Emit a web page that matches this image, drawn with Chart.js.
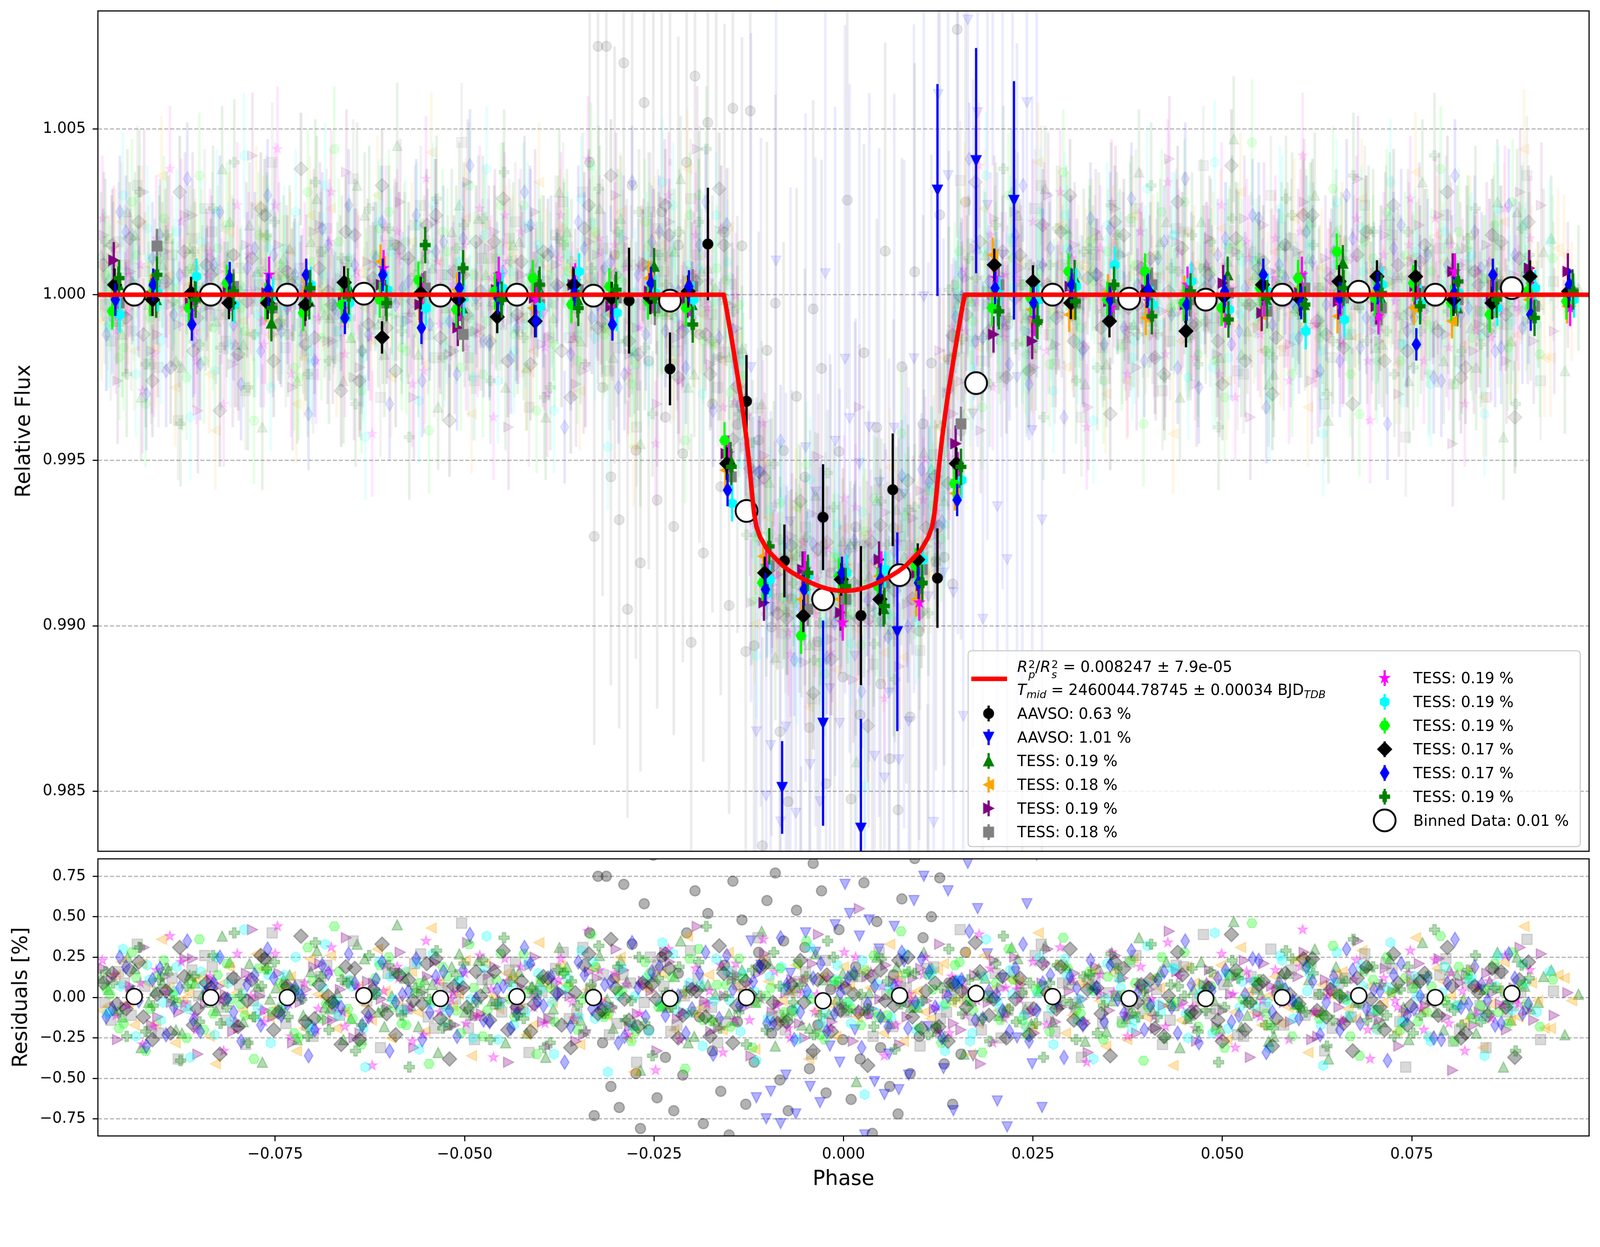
<!DOCTYPE html>
<html>
<head>
<meta charset="utf-8">
<script src="https://cdn.jsdelivr.net/npm/chart.js@4.4.1/dist/chart.umd.min.js"></script>
<style>
  html, body { margin: 0; padding: 0; background: #fff; overflow: hidden; }
  #page { position: relative; width: 4250px; height: 3192px; font-family: 'DejaVu Sans', sans-serif; transform-origin: 0 0; }
  #page canvas.chart { position: absolute; left: 0; }
  #legend { position: absolute; left: 2570px; top: 1727px; width: 1629px; height: 523px; box-sizing: border-box;
            border: 3px solid #cccccc; border-radius: 10px; background: rgba(255, 255, 255, 0.8); }
  .lt { position: absolute; font-size: 40px; line-height: 46px; height: 46px; white-space: nowrap; color: #000; }
  .ss { display: inline-flex; flex-direction: column; font-size: 0.7em; line-height: 0.95; vertical-align: 0.38em; margin-left: 2px; }
  .lt sub { font-size: 0.7em; vertical-align: -0.3em; line-height: 0; }
</style>
</head>
<body>
<div id="page">
  <canvas id="main" class="chart" width="4250" height="2272" style="top:0"></canvas>
  <canvas id="res" class="chart" width="4250" height="922" style="top:2270px"></canvas>
  <div id="legend"></div>
</div>
<script>
// fit the 4250x3192 layout into whatever viewport we get
const page = document.getElementById('page');
const fit = Math.min(window.innerWidth / 4250, window.innerHeight / 3192);
page.style.transform = `scale(${fit})`;

// ---------------- data ----------------
const seriesLabels = ['AAVSO: 0.63 %', 'AAVSO: 1.01 %', 'TESS: 0.19 %', 'TESS: 0.18 %', 'TESS: 0.19 %', 'TESS: 0.18 %',
                      'TESS: 0.19 %', 'TESS: 0.19 %', 'TESS: 0.19 %', 'TESS: 0.17 %', 'TESS: 0.17 %', 'TESS: 0.19 %'];
const modelLabel1 = '<i>R</i><span class="ss"><span>2</span><span><i>p</i></span></span>/<i>R</i><span class="ss"><span>2</span><span><i>s</i></span></span> = 0.008247 ± 7.9e-05';
const modelLabel2 = '<i>T</i><sub><i>mid</i></sub> = 2460044.78745 ± 0.00034 BJD<sub><i>TDB</i></sub>';
const binnedLabel = 'Binned Data: 0.01 %';

// transit model
const modelPhase = [-0.0984, -0.0158, -0.0155, -0.0152, -0.0148, -0.0144, -0.0140, -0.0136, -0.0132, -0.0128, -0.0124, -0.0121,
  -0.0118, -0.0115, -0.0110, -0.0100, -0.0089, -0.0080, -0.0070, -0.0060, -0.0050, -0.0040, -0.0030, -0.0020, -0.0010, 0.0001,
  0.0012, 0.0022, 0.0032, 0.0042, 0.0052, 0.0062, 0.0072, 0.0082, 0.0091, 0.0102, 0.0112, 0.0117, 0.0120, 0.0123, 0.0126,
  0.0130, 0.0134, 0.0138, 0.0142, 0.0146, 0.0150, 0.0154, 0.0157, 0.0160, 0.0984];
const modelFlux = [1.0, 1.0, 0.99965, 0.99925, 0.99871, 0.99815, 0.99758, 0.99700, 0.99635, 0.99565, 0.99480, 0.99405,
  0.99340, 0.99300, 0.99268, 0.99228, 0.99202, 0.99181, 0.99164, 0.99150, 0.99138, 0.99127, 0.99118, 0.99111, 0.99107, 0.99105,
  0.99107, 0.99111, 0.99118, 0.99127, 0.99138, 0.99150, 0.99164, 0.99181, 0.99202, 0.99228, 0.99268, 0.99300, 0.99340, 0.99405, 0.99480,
  0.99565, 0.99635, 0.99700, 0.99758, 0.99815, 0.99871, 0.99925, 0.99965, 1.0, 1.0];

// AAVSO binned points
const aavso1Phase = [-0.0283, -0.0229, -0.0179, -0.0128, -0.0078, -0.0027, 0.0023, 0.0065, 0.0124];
const aavso1Flux = [0.99982, 0.99776, 1.00153, 0.99678, 0.99196, 0.99328, 0.99031, 0.99411, 0.99144];
const aavso1Err = [0.0016, 0.0011, 0.0017, 0.0014, 0.0011, 0.0016, 0.0021, 0.0017, 0.0015];
const aavso2Phase = [-0.0081, -0.0027, 0.0023, 0.0071, 0.0124, 0.0175, 0.0225];
const aavso2Flux = [0.98512, 0.98706, 0.98389, 0.98982, 1.00316, 1.00405, 1.00285];
const aavso2Err = [0.0014, 0.0031, 0.0033, 0.0030, 0.0032, 0.0034, 0.0036];

// TESS binned points (one bin grid, small per-sector offset)
const binPhase = [-0.0961, -0.0911, -0.0860, -0.0810, -0.0759, -0.0709, -0.0658, -0.0608, -0.0557, -0.0507, -0.0456, -0.0406,
  -0.0355, -0.0305, -0.0254, -0.0204, -0.0153, -0.0103, -0.0052, -0.0002, 0.0049, 0.0099, 0.0150, 0.0200, 0.0251, 0.0301,
  0.0352, 0.0402, 0.0453, 0.0503, 0.0554, 0.0604, 0.0655, 0.0705, 0.0756, 0.0806, 0.0857, 0.0907, 0.0958];
const tessShift = [0.0004, -0.0003, -0.0002, 0.0005, 0.0001, 0.0006, -0.0004, -0.0001, 0.0000, 0.0005];
const tessBinErr = [0.00055, 0.00052, 0.00055, 0.00052, 0.00055, 0.00055, 0.00055, 0.00049, 0.00049, 0.00055];
const tess1Bin = [1.00030, 0.99985, 1.00010, 0.99975, 0.99914, 0.99980, 1.00025, 0.99990, 1.00015, 0.99960, 0.99995, 1.00018, 0.99985,
  1.00005, 1.00086, 0.99970, 0.99500, 0.99150, 0.99140, 0.99120, 0.99052, 0.99138, 0.99448, 0.99960, 0.99925, 1.00050, 0.99975,
  1.00020, 0.99990, 1.00060, 0.99985, 0.99970, 1.00095, 0.99990, 1.00015, 0.99960, 1.00008, 0.99985, 1.00022];
const tess2Bin = [0.99995, 1.00010, 0.99985, 1.00020, 0.99970, 1.00005, 0.99990, 1.00100, 0.99975, 1.00015, 0.99990, 0.99960, 1.00025,
  0.99985, 1.00050, 1.00000, 0.99470, 0.99210, 0.99080, 0.99080, 0.99150, 0.99080, 0.99400, 1.00120, 0.99955, 0.99940, 1.00010,
  0.99930, 1.00005, 0.99965, 0.99940, 1.00020, 0.99935, 1.00010, 0.99960, 0.99920, 1.00000, 0.99985, 0.99965];
const tess3Bin = [1.00104, 0.99995, 0.99975, 1.00020, 1.00005, 0.99960, 0.99985, 1.00030, 0.99970, 0.99900, 1.00015, 0.99990, 1.00030,
  0.99965, 1.00010, 0.99985, 0.99520, 0.99070, 0.99170, 0.99040, 0.99200, 0.99160, 0.99550, 0.99880, 0.99860, 1.00025, 0.99980,
  1.00015, 0.99970, 1.00035, 0.99945, 1.00005, 0.99980, 0.99965, 1.00025, 1.00070, 0.99990, 1.00080, 1.00070];
const tess4Bin = [0.99975, 1.00147, 0.99990, 1.00025, 0.99960, 1.00010, 0.99985, 0.99975, 1.00020, 0.99880, 1.00005, 0.99970, 1.00015,
  0.99990, 0.99960, 1.00025, 0.99450, 0.99180, 0.99050, 0.99080, 0.99130, 0.99170, 0.99610, 1.00030, 0.99990, 0.99975, 0.99970,
  1.00030, 0.99985, 1.00005, 0.99950, 1.00020, 0.99990, 0.99960, 1.00010, 0.99985, 1.00030, 0.99965, 1.00005];
const tess5Bin = [0.99985, 1.00020, 0.99960, 1.00005, 1.00060, 0.99990, 0.99970, 1.00080, 1.00010, 0.99975, 1.00060, 0.99985, 1.00040,
  0.99965, 1.00005, 0.99990, 0.99520, 0.99180, 0.99170, 0.99010, 0.99170, 0.99070, 0.99470, 1.00050, 0.99930, 1.00010, 0.99960,
  0.99980, 1.00030, 0.99955, 0.99990, 1.00060, 0.99970, 0.99935, 1.00015, 1.00070, 0.99985, 1.00030, 0.99960];
const tess6Bin = [0.99940, 1.00005, 1.00055, 0.99970, 0.99995, 1.00030, 0.99975, 1.00015, 0.99960, 0.99990, 1.00020, 0.99965, 1.00070,
  0.99945, 1.00005, 0.99985, 0.99370, 0.99140, 0.99150, 0.99160, 0.99170, 0.99200, 0.99440, 1.00000, 0.99985, 1.00025, 1.00090,
  0.99970, 1.00040, 0.99955, 1.00010, 0.99890, 0.99925, 1.00030, 0.99975, 1.00005, 0.99960, 1.00020, 0.99985];
const tess7Bin = [0.99950, 0.99990, 0.99960, 1.00035, 0.99980, 0.99945, 0.99970, 0.99985, 1.00045, 0.99955, 1.00010, 1.00050, 0.99970,
  1.00025, 0.99980, 0.99960, 0.99560, 0.99130, 0.98970, 0.99150, 0.99120, 0.99180, 0.99430, 0.99960, 0.99990, 1.00070, 0.99985,
  1.00070, 0.99975, 0.99960, 1.00020, 1.00050, 1.00130, 0.99990, 1.00035, 0.99975, 0.99940, 1.00010, 0.99980];
const tess8Bin = [1.00030, 0.99985, 1.00005, 0.99975, 0.99975, 0.99970, 1.00037, 0.99871, 1.00005, 0.99985, 0.99933, 0.99920, 1.00030,
  0.99990, 0.99990, 1.00010, 0.99490, 0.99160, 0.99030, 0.99140, 0.99080, 0.99200, 0.99490, 1.00090, 1.00040, 0.99975, 0.99920,
  1.00010, 0.99890, 0.99995, 1.00030, 0.99985, 1.00040, 1.00055, 1.00055, 0.99985, 0.99975, 1.00055, 1.00010];
const tess9Bin = [0.99985, 1.00030, 0.99910, 1.00050, 1.00015, 1.00060, 0.99930, 1.00060, 0.99900, 1.00020, 0.99990, 0.99920, 1.00005,
  0.99910, 1.00035, 1.00025, 0.99410, 0.99110, 0.99110, 0.99160, 0.99140, 0.99130, 0.99380, 1.00020, 0.99975, 1.00030, 0.99985,
  1.00015, 0.99970, 1.00010, 1.00060, 0.99975, 0.99990, 1.00020, 0.99850, 1.00005, 1.00060, 0.99940, 1.00030];
const tess10Bin = [1.00050, 1.00060, 0.99985, 1.00010, 0.99960, 1.00020, 0.99995, 0.99975, 1.00150, 1.00080, 0.99985, 1.00030, 0.99960,
  1.00015, 0.99990, 0.99910, 0.99480, 0.99240, 0.99160, 0.99120, 0.99060, 0.99130, 0.99480, 0.99950, 0.99920, 0.99980, 1.00030,
  0.99935, 1.00010, 0.99925, 0.99990, 0.99970, 1.00020, 1.00005, 0.99965, 1.00040, 0.99985, 0.99930, 1.00010];

// unbinned points: phase in units of 1e-4, residual in units of 0.01 %
const aavso1FaintPh = [-335, -329, -324, -318, -313, -307, -302, -296, -290, -285, -279, -274, -268, -263, -257, -251, -246, -240,
  -235, -229, -224, -218, -212, -207, -201, -196, -190, -185, -179, -173, -168, -162, -157, -151, -146, -140, -134, -129, -123, -118,
  -112, -107, -101, -95, -90, -84, -79, -73, -68, -62, -56, -51, -45, -40, -34, -29, -23, -17, -12, -6, -1, 5, 10, 16, 22, 27, 33,
  38, 44, 49, 55, 61, 66, 72, 77, 83, 88, 94, 100, 105, 111, 116, 122, 127, 133, 139, 144, 150, 155, 161];
const aavso1FaintRes = [40, -73, 75, -28, 75, -55, 12, -68, 70, -95, 33, -47, -81, 58, -20, 88, -62, 25, -37, 102, -70, 15, -48, 40,
  -105, 66, -12, -78, 52, -33, 95, -58, 20, -85, 72, -15, 48, -66, 110, -40, 28, -92, 60, -22, 77, -51, 35, -70, -8, 54, -120, 31,
  -44, 83, -17, 66, -59, 5, -90, 42, -26, 118, -63, 19, -38, 71, -10, -84, 47, -31, 99, -55, 14, -72, 61, -3, -47, 86, -24, 37,
  -113, 50, -19, 74, -41, 9, -66, 93, -35, 28];
const aavso2FaintPh = [-122, -115, -109, -102, -96, -89, -83, -76, -70, -63, -57, -50, -44, -37, -31, -24, -18, -11, -5, 2, 8, 15,
  21, 28, 34, 41, 47, 54, 60, 67, 73, 80, 86, 93, 99, 106, 112, 119, 125, 132, 138, 145, 151, 158, 164, 171, 177, 184, 190, 197,
  203, 210, 216, 223, 229, 236, 242, 249, 255, 262];
const aavso2FaintRes = [35, -62, 20, -75, -58, 90, -78, -48, 15, -72, -110, 40, -55, 28, -65, 95, -30, 45, -40, 70, 52, -20, 38,
  -85, 48, -52, 30, -60, -35, 44, -57, 22, -48, 60, -130, 75, -18, -92, 115, -44, 66, -70, 10, -125, 83, -36, 55, -98, 27, 140,
  -64, 12, -80, 105, -25, -115, 58, -41, 88, -68];
// TESS 2-min cadence folds onto a common phase grid; each transit sits at its own offset
const tessFaintGrid = [-980, -962, -945, -927, -909, -891, -873, -856, -838, -820, -802, -784, -767, -749, -731, -713, -695, -678,
  -660, -642, -624, -606, -589, -571, -553, -535, -517, -500, -482, -464, -446, -428, -411, -393, -375, -357, -339, -322, -304, -286,
  -268, -250, -233, -215, -197, -179, -161, -144, -126, -108, -90, -72, -55, -37, -19, -1, 17, 34, 52, 70, 88, 106, 123, 141, 159,
  177, 195, 212, 230, 248, 266, 284, 301, 319, 337, 355, 373, 390, 408, 426, 444, 462, 479, 497, 515, 533, 551, 568, 586, 604, 622,
  640, 657, 675, 693, 711, 729, 746, 764, 782, 800, 818, 835, 853, 871, 889, 907, 924, 942, 960];
const tessFaintShiftA = [0, 9, 4, 13, 2, 11, 6, 15, 7, 16];
const tessFaintShiftB = [10, 1, 14, 5, 17, 8, 12, 3, 15, 6];
const tess1ResA = [12, -8, 25, -31, 4, 17, -22, 9, -3, 38, -15, 21, -40, 6, 14, -11, 29, -7, -26, 33, 2, -18, 45, -5, 11, -34, 19, -9,
  23, -2, -28, 16, 7, -37, 31, -13, 3, 26, -19, 10, -45, 13, -6, 35, -24, 8, 20, -14, -1, 41, -30, 5, -17, 27, -10, 15, -52, 3, -12,
  19, -6, 28, -21, 7, -35, 14, 0, -9, 24, -16, 32, -4, 11, -27, 18, -2, -13, 37, -8, 22, -31, 5, 9, -19, 47, -11, 2, -24, 15, -6, 30,
  -38, 12, -3, 20, -15, 6, -26, 34, -9, 17, -1, -22, 10, -43, 25, -7, 13];
const tess2ResA = [-5, 22, -17, 9, 36, -28, 3, 14, -41, 19, -8, 27, -12, 6, -33, 24, 1, -19, 11, -4, 30, -25, 16, -9, 43, -14, 2, -36,
  21, -7, 12, -23, 34, -3, 8, -29, 18, -11, 25, -46, 5, 15, -20, 38, -6, -15, 28, 4, -32, 10, -2, 20, -38, 13, -24, 7, 16, -10, 33,
  -27, 4, -13, 21, -1, -35, 26, -8, 11, -18, 40, -5, -22, 9, 17, -30, 2, 24, -12, 6, -42, 19, -3, 13, -26, 31, -9, 1, -16, 23, -34,
  8, 14, -7, 29, -20, 3, -11, 37, -24, 10, -4, 18, -31, 6, -14, 44, -2, -19, 12];
const tess3ResA = [18, -26, 7, 31, -12, -3, 24, -35, 11, 2, -19, 42, -8, 15, -28, 5, 21, -14, 37, -22, 9, -6, 28, -31, 13, -1, -17, 34,
  -10, 19, -40, 6, 25, -13, 3, -27, 16, -5, 30, -18, 10, -33, 22, -9, 44, -21, 1, 14, -36, 27, -4, 11, -25, 39, -15, 8, 55, -7, 20,
  -29, 12, -2, 33, -16, 5, -41, 23, -10, 8, -22, 30, -6, 15, -34, 2, 26, -12, 9, -19, 41, -3, -27, 17, -8, 13, -37, 21, 4, -15, 28,
  -24, 7, -1, 35, -11, 18, -30, 10, -5, 24, -45, 14, -9, 3, -20, 31, -14];
const tess4ResA = [-14, 9, 33, -21, 5, -38, 17, 26, -6, 12, -29, 3, 40, -16, 8, -24, 20, -11, 35, -2, -31, 15, -7, 27, -19, 6, 46, -26,
  11, -9, 22, -34, 4, 18, -13, 31, -1, -23, 14, -40, 25, 7, -17, 29, -5, -28, 16, 2, 37, -12, -20, 10, -35, 23, -8, 13, -3, 28, -18,
  6, -30, 19, -9, 42, -14, 1, -25, 16, -6, 33, -21, 8, -37, 12, 3, -15, 26, -4, -29, 20, -11, 39, -7, 14, -24, 5, 30, -17, -2, 22,
  -33, 9, -12, 27, -8, 18, -43, 11, -1, 24, -20, 7, -31, 15, -5, 36, -26, 4];
const tess5ResA = [23, -11, 6, -29, 17, 38, -4, -20, 13, -33, 27, 1, -15, 44, -24, 9, -7, 31, -18, 5, -42, 20, 12, -27, 35, -9, 3, -16,
  26, -37, 10, 19, -6, -30, 24, -13, 41, -2, 15, -23, 8, -45, 30, -10, 18, 4, -34, 21, -14, 36, -5, -25, 11, 2, -19, 28, -8, 16, -36,
  9, -3, 25, -21, 13, -11, 39, -28, 6, -1, 22, -17, 31, -7, -40, 14, 3, -24, 19, -12, 34, -5, -19, 8, 27, -31, 11, -2, 17, -26, 42,
  -9, 4, -15, 23, -38, 12, -6, 29, -20, 1, 15, -33, 7, -13, 26, -4];
const tess6ResA = [-9, 30, -24, 11, -3, 19, -37, 8, 25, -15, 42, -6, -28, 14, 3, -20, 33, -11, 7, -43, 22, -1, 16, -32, 27, -8, 10, -25,
  38, -4, -17, 21, 5, -35, 12, 29, -13, -46, 18, 1, -21, 34, -7, 9, -30, 24, -2, 15, -39, 13, 6, -26, 31, -10, 20, -16, -60, 8, -12,
  27, -4, 17, -33, 11, -22, 36, -7, 2, -18, 25, -29, 14, -1, -38, 21, 6, -14, 32, -9, 18, -25, 4, 40, -19, 10, -6, -31, 23, -3, 15,
  -42, 28, -11, 7, -20, 34, -15, 1, -27, 19, -5, 12, -36, 26, -8, 9];
const tess7ResA = [6, -19, 28, -33, 14, 2, -25, 36, -10, 21, -4, -38, 17, 9, -22, 31, -13, 44, -7, -29, 12, 25, -16, 3, -41, 19, -8, 33,
  -24, 11, -1, 27, -35, 6, 16, -20, 39, -12, 4, -27, 22, -6, 13, -44, 30, -15, 8, 24, -31, 1, 18, -9, 35, -23, 10, -3, -17, 26, -11,
  41, -6, 14, -28, 20, -2, -34, 9, 30, -14, 5, -21, 37, -8, 16, -26, 1, 23, -39, 12, -4, 28, -18, 7, -31, 15, 46, -10, 3, -24, 19,
  -13, 32, -1, -36, 11, 25, -20, 6, -9, 38, -27, 14, -5, 21, -16, 8];
const tess8ResA = [15, -7, 22, -26, 4, 31, -17, 9, -35, 12, -2, 26, -20, 7, 38, -13, 1, -29, 18, -9, 33, -23, 11, -4, 24, -38, 6, 16,
  -14, 29, -6, -21, 13, 3, -31, 20, -10, 36, -1, -18, 8, 27, -25, 5, -12, 32, -28, 10, 19, -3, -15, 23, -33, 14, -8, 2, -42, 17, -5,
  25, -19, 9, -27, 4, 34, -11, 13, -1, -23, 21, -7, 30, -16, 6, -36, 18, -3, 11, -24, 28, -9, 2, -14, 39, -20, 8, -30, 15, -4, 24,
  -12, 1, -33, 19, -6, 27, -17, 10, -2, 31, -25, 7, -11, 16, -37, 22];
const tess9ResA = [-12, 25, 3, -30, 18, -6, 35, -21, 9, -1, -27, 14, 30, -11, 6, -36, 20, -4, 27, -17, 11, -33, 2, 24, -9, 16, -24, 39,
  -14, 5, -19, 31, -2, 13, -40, 22, -7, 8, -28, 34, -12, 19, 1, -22, 15, -35, 26, -5, 10, -16, 37, -26, 4, 21, -10, 12, -31, 7, -18,
  28, -3, 16, -25, 9, 41, -13, 2, -21, 33, -8, 14, -37, 6, 23, -15, -1, 29, -20, 11, -6, 35, -28, 4, 17, -11, 24, -34, 9, -2, 19,
  -23, 13, 30, -16, 5, -39, 21, -7, 12, -26, 36, -4, 8, -17, 27, -10];
const tess10ResA = [9, -24, 31, -5, 18, -39, 13, 2, -16, 40, -28, 7, 22, -12, -1, 34, -20, 11, -33, 26, -8, 15, -43, 4, 29, -17, 21, -3,
  -26, 37, -11, 6, -31, 17, 10, -21, 32, -6, -14, 25, -36, 3, 19, -9, 44, -19, 12, -29, 1, 28, -13, 8, -23, 35, -4, 14, -7, 24, -32,
  16, -2, -18, 30, -10, 5, -27, 38, -15, 9, -37, 20, -4, 13, -22, 27, -1, -12, 33, -25, 7, 18, -8, -40, 23, -3, 11, -19, 29, -6, 15,
  -30, 2, 36, -14, 8, -24, 19, -11, 42, -5, -17, 26, -9, 4, -33, 12];
const tess1ResB = [5, -12, 18, -3, 9, -20, 14, 2, -8, 22, -15, 7, -1, 11, -26, 16, -6, 3, -13, 24, -9, 1, 12, -18, 8, -4, 27, -11, 6,
  -2, 15, -22, 10, -7, 19, -14, 4, -1, 23, -17, 9, -5, 13, -28, 7, 2, -10, 17, -3, 21, -12, 6, -19, 11, -1, 14, -8, 25, -16, 3, -6,
  18, -24, 9, -2, 12, -11, 31, -7, 4, -15, 20, -3, 8, -21, 13, -9, 1, 16, -5, -13, 22, -2, 10, -18, 6, -27, 15, -4, 11, -8, 19, -12,
  3, -16, 24, -6, 9, -1, -20, 14, -10, 5, 28, -14, 7, -3, 17, -23, 2];
const tess2ResB = [-8, 14, -3, 21, -16, 6, -1, 11, -24, 9, 3, -12, 18, -6, 13, -19, 2, 26, -9, 7, -14, 4, -2, 16, -21, 10, -5, 23, -11,
  1, 15, -7, -17, 8, 20, -13, 5, -3, 12, -25, 9, 18, -6, 2, -10, 14, -20, 7, -1, 24, -15, 4, 11, -8, -4, 19, -12, 6, -22, 13, 1, -9,
  17, -3, 28, -16, 5, -7, 10, -18, 3, 21, -11, 8, -2, 15, -26, 6, 12, -5, -14, 9, -1, 20, -9, 4, -17, 13, -6, 25, -10, 2, 16, -13, 7,
  -3, -21, 11, -8, 18, 1, -15, 6, -4, 22, -12, 9, -19, 14, -2];
const tess3ResB = [11, -6, 2, -17, 13, -9, 24, -4, 7, -21, 15, 1, -12, 8, -3, 19, -14, 5, -25, 10, -1, 16, -8, 3, 22, -18, 6, -11, 14,
  -2, -7, 20, -15, 9, 1, -23, 12, -5, 17, -10, 4, 28, -13, 7, -2, -19, 11, -6, 15, -9, 3, -16, 21, -4, 8, -27, 13, -1, 10, -12, 18,
  -7, 2, -20, 14, -3, 6, 25, -11, 9, -15, 4, -1, 19, -8, 12, -22, 5, -5, 16, -13, 8, -18, 2, 23, -10, 7, -3, 13, -26, 11, -6, 1, 17,
  -14, 4, -9, 21, -2, -12, 9, -17, 15, -4, 6, -8, 27, -11, 3];
const tess4ResB = [-3, 16, -11, 7, -22, 12, -5, 1, 19, -14, 8, -2, 24, -9, 4, -17, 13, -6, 10, -26, 3, 15, -8, 21, -12, 6, -1, -19, 11,
  -4, 17, -7, 2, -13, 28, -10, 5, 14, -16, 9, -3, 20, -21, 1, 12, -6, -15, 8, -2, 23, -11, 4, 16, -18, 7, -9, 13, -24, 2, 10, -5, 18,
  -13, 6, -1, -20, 15, -8, 3, 26, -12, 9, -4, 11, -16, 1, 22, -7, 5, -14, 19, -2, -10, 8, -23, 13, -6, 4, 17, -11, 2, -19, 12, -3,
  -8, 21, -15, 6, -1, 14, -27, 9, -5, 18, -9, 3];
const tess5ResB = [14, -5, 9, -18, 3, 22, -11, 6, -2, -15, 12, -8, 27, -4, 1, -20, 16, -9, 7, -13, 4, 19, -6, -23, 10, -1, 15, -12, 5,
  24, -8, 2, -16, 11, -3, -21, 17, -7, 8, -10, 13, 1, -26, 6, -4, 20, -14, 9, -1, 16, -19, 3, -9, 12, -5, 25, -11, 7, -17, 2, 14, -6,
  -22, 10, -2, 18, -13, 5, -8, 21, -3, 11, -15, 4, 28, -10, 7, -1, -18, 13, -6, 9, -24, 2, 16, -12, 5, -3, 19, -9, 1, -14, 11, -20, 8,
  -2, 15, -7, 23, -16, 4, -11, 10, -5, -1, 17];
const tess6ResB = [-10, 7, -1, 20, -14, 4, -7, 16, -23, 9, 2, -12, 14, -5, 25, -17, 6, -2, 11, -19, 3, 13, -8, 21, -4, -15, 10, -1, 18,
  -26, 7, -9, 15, -3, 5, -12, 22, -6, 1, -18, 12, -4, 27, -10, 8, -2, 16, -21, 4, -13, 19, -7, 2, -16, 11, -3, 23, -9, 6, -1, -20, 14,
  -5, 9, -27, 13, -2, 17, -11, 3, -7, 24, -14, 5, -1, 12, -19, 8, -4, 18, -10, 1, -22, 15, -6, 10, -3, 26, -13, 4, -17, 9, -2, 20, -8,
  6, -15, 13, -24, 3, -5, 11, -12, 7, -1, 21, -9, 16];
const tess7ResB = [2, -16, 12, -7, 23, -3, 8, -20, 14, -1, -11, 18, -9, 5, -25, 10, -4, 16, -13, 1, 20, -6, -17, 9, -2, 13, -22, 6, -8,
  27, -12, 3, 11, -15, 7, -1, 19, -10, 4, -21, 15, -5, -2, 24, -14, 8, -18, 12, -3, 6, -9, 21, -1, -26, 10, -7, 17, -12, 3, 15, -19, 5,
  -4, 22, -8, 1, -14, 11, -23, 7, -2, 18, -10, 4, 13, -16, 9, -6, 25, -3, -12, 8, -20, 14, -1, 10, -17, 6, -5, 21, -11, 2, -24, 16,
  -8, 3, 12, -15, 7, -2, 19, -13, 5, -9, 28, -4, -18, 11];
const tess8ResB = [9, -4, 17, -12, 2, -22, 13, -7, 6, -1, -18, 11, 24, -9, 3, -15, 8, -3, 19, -26, 5, -10, 14, -2, 21, -13, 7, -6, 1,
  16, -20, 10, -4, 12, -17, 3, 27, -8, 6, -14, 9, -1, 18, -11, 4, -24, 15, -5, 2, 20, -16, 8, -3, 11, -21, 6, -9, 13, -2, 23, -12, 4,
  -18, 9, -6, 16, -1, -25, 12, -7, 3, 19, -14, 5, -10, 22, -4, 8, -19, 1, 14, -9, 6, -27, 17, -3, 10, -13, 2, 24, -8, 5, -16, 12, -1,
  -20, 9, -5, 15, -11, 7, -22, 3, 18, -6, 11];
const tess9ResB = [-7, 19, -2, 11, -23, 6, -14, 3, 25, -9, 8, -17, 12, -4, 1, -20, 15, -6, 9, -12, 22, -3, 4, -26, 13, -8, 17, -1, -15,
  7, -10, 21, -5, 2, -18, 14, -3, 10, -24, 6, 16, -11, 1, -7, 28, -13, 5, -2, 19, -16, 8, -9, 12, -21, 3, 15, -4, -12, 7, -19, 24, -6,
  1, 11, -14, 4, -8, 18, -27, 9, -2, 13, -17, 6, 20, -10, 3, -5, 16, -22, 8, -1, 12, -15, 2, 23, -9, 5, -13, 10, -3, -20, 17, -7, 4,
  14, -11, 1, -25, 9, -6, 19, -2, -16, 12, -4];
const tess10ResB = [16, -9, 4, -21, 11, -2, 7, -15, 26, -6, 1, -12, 18, -8, 5, -24, 13, -3, 9, -17, 2, 20, -11, 6, -1, -19, 14, -7, 23,
  -4, 10, -13, 3, -28, 15, -5, 8, -10, 19, -2, -16, 12, -6, 4, 22, -14, 1, -9, 17, -20, 7, -3, 13, -11, 25, -8, 2, -18, 10, -4, 15,
  -23, 6, -1, 11, -13, 21, -7, 3, -16, 9, -2, -26, 14, -5, 18, -10, 4, -12, 8, 1, -21, 16, -6, 12, -3, -17, 7, 24, -9, 2, -14, 10, -4,
  19, -11, 5, -22, 13, -1, -8, 17, -15, 6, -3, 20];
const faintErr = [0.0063, 0.0101, 0.0019, 0.0018, 0.0019, 0.0018, 0.0019, 0.0019, 0.0019, 0.0017, 0.0017, 0.0019];

// combined (binned) data
const binnedPhase = [-0.0936, -0.0835, -0.0734, -0.0633, -0.0532, -0.0431, -0.0330, -0.0229, -0.0128, -0.0027, 0.0074, 0.0175,
  0.0276, 0.0377, 0.0478, 0.0579, 0.0680, 0.0781, 0.0882];
const binnedFlux = [1.00000, 1.00000, 1.00000, 1.00003, 0.99997, 1.00000, 0.99997, 0.99982, 0.99347, 0.99080, 0.99153, 0.99733,
  1.00000, 0.99988, 0.99985, 1.00000, 1.00009, 1.00000, 1.00020];
const binnedRes = [0.006, 0.000, 0.000, 0.012, -0.006, 0.006, 0.000, -0.006, 0.000, -0.020, 0.012, 0.025, 0.006, -0.006, -0.006,
  0.000, 0.012, 0.000, 0.025];

// ---------------- styles ----------------
const markerShapes = ['o', 'v', '^', '<', '>', 's', '*', 'h', 'H', 'D', 'd', 'P'];
const markerColors = ['#000000', '#0000ff', '#008000', '#ffa500', '#800080', '#808080', '#ff00ff', '#00ffff', '#00ff00',
                      '#000000', '#0000ff', '#008000'];
const faintBarAlpha = [0.08, 0.08, 0.1, 0.1, 0.1, 0.1, 0.1, 0.1, 0.1, 0.1, 0.1, 0.1];

Chart.defaults.font.family = "'DejaVu Sans', sans-serif";
Chart.defaults.color = '#000';

function rgba(hex, a) {
  const n = parseInt(hex.slice(1), 16);
  return `rgba(${n >> 16}, ${(n >> 8) & 255}, ${n & 255}, ${a})`;
}

function markerCanvas(shape, ms, fill, stroke, lw) {
  const r = ms / 2;
  const ext = (shape === 'D' || shape === 'd') ? r * 1.4143 : r;
  const half = Math.ceil(ext + lw + 2);
  const c = document.createElement('canvas');
  c.width = c.height = half * 2;
  const g = c.getContext('2d');
  g.translate(half, half);
  g.beginPath();
  const poly = pts => { pts.forEach(([px, py], k) => k ? g.lineTo(px, py) : g.moveTo(px, py)); g.closePath(); };
  const reg = (n, rad, a0) => {
    const p = [];
    for (let k = 0; k < n; k++) { const a = a0 + k * 2 * Math.PI / n; p.push([rad * Math.cos(a), rad * Math.sin(a)]); }
    return p;
  };
  const a = r * 1.4142, t = r / 3;
  switch (shape) {
    case 'o': g.arc(0, 0, r, 0, 2 * Math.PI); break;
    case '^': poly([[0, -r], [r, r], [-r, r]]); break;
    case 'v': poly([[0, r], [r, -r], [-r, -r]]); break;
    case '<': poly([[-r, 0], [r, -r], [r, r]]); break;
    case '>': poly([[r, 0], [-r, r], [-r, -r]]); break;
    case 's': poly([[-r, -r], [r, -r], [r, r], [-r, r]]); break;
    case 'D': poly([[0, -a], [a, 0], [0, a], [-a, 0]]); break;
    case 'd': poly([[0, -a], [0.6 * a, 0], [0, a], [-0.6 * a, 0]]); break;
    case 'h': poly(reg(6, r, -Math.PI / 2)); break;
    case 'H': poly(reg(6, r, 0)); break;
    case '*': {
      const p = [];
      for (let k = 0; k < 10; k++) {
        const ang = -Math.PI / 2 + k * Math.PI / 5, rad = k % 2 ? r * 0.381966 : r;
        p.push([rad * Math.cos(ang), rad * Math.sin(ang)]);
      }
      poly(p); break;
    }
    case 'P': poly([[-t, -r], [t, -r], [t, -t], [r, -t], [r, t], [t, t], [t, r], [-t, r], [-t, t], [-r, t], [-r, -t], [-t, -t]]); break;
  }
  g.fillStyle = fill;
  g.fill();
  if (lw > 0) { g.lineWidth = lw; g.strokeStyle = stroke; g.stroke(); }
  return c;
}

function modelAt(p) {
  if (p <= modelPhase[0]) return modelFlux[0];
  for (let i = 1; i < modelPhase.length; i++) {
    if (p <= modelPhase[i]) {
      const f = (p - modelPhase[i - 1]) / (modelPhase[i] - modelPhase[i - 1]);
      return modelFlux[i - 1] + f * (modelFlux[i] - modelFlux[i - 1]);
    }
  }
  return modelFlux[modelFlux.length - 1];
}

function fmt(v, d) {
  if (Math.abs(v) < 1e-9) v = 0;
  return v.toFixed(d).replace('-', '\u2212');
}

// vertical error bars, drawn just before each dataset's markers
const errorBars = {
  id: 'errorBars',
  beforeDatasetDraw(chart, args) {
    const ds = chart.data.datasets[args.index];
    if (ds.errY === undefined) return;
    const {ctx, chartArea: area, scales: {x, y}} = chart;
    ctx.save();
    ctx.beginPath();
    ctx.rect(area.left, area.top, area.right - area.left, area.bottom - area.top);
    ctx.clip();
    ctx.strokeStyle = ds.errColor;
    ctx.lineWidth = ds.errWidth;
    ds.data.forEach((p, i) => {
      const e = Array.isArray(ds.errY) ? ds.errY[i] : ds.errY;
      const px = x.getPixelForValue(p.x);
      ctx.beginPath();
      ctx.moveTo(px, y.getPixelForValue(p.y - e));
      ctx.lineTo(px, y.getPixelForValue(p.y + e));
      ctx.stroke();
    });
    ctx.restore();
  }
};

const frame = {
  id: 'frame',
  afterDraw(chart) {
    const {ctx, chartArea: a} = chart;
    ctx.save();
    ctx.strokeStyle = '#000';
    ctx.lineWidth = 3;
    ctx.strokeRect(a.left, a.top, a.right - a.left, a.bottom - a.top);
    ctx.restore();
  }
};

// ---------------- build datasets ----------------
const tessBins = [tess1Bin, tess2Bin, tess3Bin, tess4Bin, tess5Bin, tess6Bin, tess7Bin, tess8Bin, tess9Bin, tess10Bin];
const tessResA = [tess1ResA, tess2ResA, tess3ResA, tess4ResA, tess5ResA, tess6ResA, tess7ResA, tess8ResA, tess9ResA, tess10ResA];
const tessResB = [tess1ResB, tess2ResB, tess3ResB, tess4ResB, tess5ResB, tess6ResB, tess7ResB, tess8ResB, tess9ResB, tess10ResB];
const bright = [
  {ph: aavso1Phase, fl: aavso1Flux, er: aavso1Err},
  {ph: aavso2Phase, fl: aavso2Flux, er: aavso2Err}
];
tessBins.forEach((fl, k) => {
  bright.push({ph: binPhase.map(p => p + tessShift[k]), fl: fl, er: binPhase.map(() => tessBinErr[k])});
});
// each entry: list of [phase array, residual array] pieces for one series
const faint = [[[aavso1FaintPh, aavso1FaintRes]], [[aavso2FaintPh, aavso2FaintRes]]];
tessResA.forEach((resA, k) => faint.push([
  [tessFaintGrid.map(p => p + tessFaintShiftA[k]), resA],
  [tessFaintGrid.map(p => p + tessFaintShiftB[k]), tessResB[k]]
]));

const mainSets = [];
const resSets = [];
faint.forEach((pieces, i) => {
  const pts = [], rpts = [];
  pieces.forEach(([ph, res]) => {
    const n = Math.min(ph.length, res.length);
    for (let j = 0; j < n; j++) {
      const x = ph[j] / 10000;
      pts.push({x: x, y: modelAt(x) + res[j] / 10000});
      rpts.push({x: x, y: res[j] / 100});
    }
  });
  const col = markerColors[i];
  mainSets.push({
    data: pts, pointStyle: markerCanvas(markerShapes[i], 26, rgba(col, 0.1), rgba(col, 0.1), 3),
    pointRadius: 10, clip: 0, errY: faintErr[i], errColor: rgba(col, faintBarAlpha[i]), errWidth: 7
  });
  resSets.push({
    data: rpts, pointStyle: markerCanvas(markerShapes[i], 27, rgba(col, 0.3), rgba(col, 0.3), 3),
    pointRadius: 10, clip: 0
  });
});
bright.forEach((b, i) => {
  const col = markerColors[i];
  mainSets.push({
    data: b.ph.map((p, j) => ({x: p, y: b.fl[j]})),
    pointStyle: markerCanvas(markerShapes[i], 26, col, col, 3),
    pointRadius: 10, clip: 0, errY: b.er, errColor: col, errWidth: 6
  });
});
mainSets.push({
  data: binnedPhase.map((p, j) => ({x: p, y: binnedFlux[j]})),
  pointStyle: markerCanvas('o', 58, '#ffffff', '#000000', 5), pointRadius: 10, clip: 0
});
mainSets.push({
  data: modelPhase.map((p, j) => ({x: p, y: modelFlux[j]})),
  showLine: true, borderColor: '#ff0000', borderWidth: 12, pointRadius: 0, borderJoinStyle: 'round', clip: 0
});
resSets.push({
  data: binnedPhase.map((p, j) => ({x: p, y: binnedRes[j]})),
  pointStyle: markerCanvas('o', 42, '#ffffff', '#000000', 4), pointRadius: 10, clip: 0
});
mainSets.forEach((d, i) => { d.order = -i; });
resSets.forEach((d, i) => { d.order = -i; });

const gridY = {color: '#b0b0b0', lineWidth: 3, tickColor: '#000', tickWidth: 3, tickLength: 14};

new Chart(document.getElementById('main'), {
  type: 'scatter',
  data: {datasets: mainSets},
  options: {
    responsive: false, animation: false, devicePixelRatio: 1, events: [],
    layout: {padding: {left: 0, top: 29, right: 29, bottom: 2}},
    plugins: {legend: {display: false}, tooltip: {enabled: false}},
    scales: {
      x: {type: 'linear', min: -0.0984, max: 0.0984, display: false},
      y: {
        type: 'linear', min: 0.98319, max: 1.00857,
        ticks: {stepSize: 0.005, includeBounds: false, padding: 18, font: {size: 40}, callback: v => fmt(v, 3)},
        grid: gridY,
        border: {display: false, dash: [11, 5]},
        title: {display: true, text: 'Relative Flux', font: {size: 55}, padding: {top: 32, bottom: 0}},
        afterFit(s) { s.width = 260; s.paddingTop = 0; s.paddingBottom = 0; }
      }
    }
  },
  plugins: [errorBars, frame]
});

new Chart(document.getElementById('res'), {
  type: 'scatter',
  data: {datasets: resSets},
  options: {
    responsive: false, animation: false, devicePixelRatio: 1, events: [],
    layout: {padding: {left: 0, top: 1, right: 29, bottom: 0}},
    plugins: {legend: {display: false}, tooltip: {enabled: false}},
    scales: {
      x: {
        type: 'linear', min: -0.0984, max: 0.0984,
        ticks: {stepSize: 0.025, includeBounds: false, padding: 12, font: {size: 40}, maxRotation: 0, autoSkip: false,
                callback: v => fmt(v, 3)},
        grid: {drawOnChartArea: false, tickColor: '#000', tickWidth: 3, tickLength: 14},
        border: {display: false},
        title: {display: true, text: 'Phase', font: {size: 55}, padding: {top: 0, bottom: 26}},
        afterFit(s) { s.height = 175; s.paddingLeft = 0; s.paddingRight = 0; }
      },
      y: {
        type: 'linear', min: -0.856, max: 0.858,
        ticks: {stepSize: 0.25, includeBounds: false, padding: 18, font: {size: 40}, callback: v => fmt(v, 2)},
        grid: gridY,
        border: {display: false, dash: [11, 5]},
        title: {display: true, text: 'Residuals [%]', font: {size: 55}, padding: {top: 24, bottom: 0}},
        afterFit(s) { s.width = 260; s.paddingTop = 0; s.paddingBottom = 0; }
      }
    }
  },
  plugins: [errorBars, frame]
});

// ---------------- legend ----------------
function addText(html, x, yc) {
  const d = document.createElement('div');
  d.className = 'lt';
  d.style.left = x + 'px';
  d.style.top = (yc - 23) + 'px';
  d.innerHTML = html;
  page.appendChild(d);
}
function addHandle(i, xc, yc) {
  const c = document.createElement('canvas');
  c.width = c.height = 72;
  const g = c.getContext('2d');
  g.strokeStyle = markerColors[i];
  g.lineWidth = 6;
  g.beginPath(); g.moveTo(36, 15); g.lineTo(36, 57); g.stroke();
  const m = markerCanvas(markerShapes[i], 26, markerColors[i], markerColors[i], 3);
  g.drawImage(m, 36 - m.width / 2, 36 - m.height / 2);
  c.style.position = 'absolute';
  c.style.left = (xc - 36) + 'px';
  c.style.top = (yc - 36) + 'px';
  page.appendChild(c);
}
const redLine = document.createElement('div');
redLine.style.cssText = 'position:absolute;left:2580px;top:1797px;width:95px;height:12px;background:#ff0000';
page.appendChild(redLine);
addText(modelLabel1, 2702, 1771);
addText(modelLabel2, 2702, 1832);
seriesLabels.forEach((lab, i) => {
  const left = i < 6;
  const yc = left ? 1895 + i * 63 : 1801 + (i - 6) * 63;
  addHandle(i, left ? 2626 : 3678, yc);
  addText(lab, left ? 2702 : 3754, yc);
});
const bc = markerCanvas('o', 58, '#ffffff', '#000000', 5);
bc.style.position = 'absolute';
bc.style.left = (3678 - bc.width / 2) + 'px';
bc.style.top = (2179 - bc.height / 2) + 'px';
page.appendChild(bc);
addText(binnedLabel, 3754, 2179);
</script>
</body>
</html>
